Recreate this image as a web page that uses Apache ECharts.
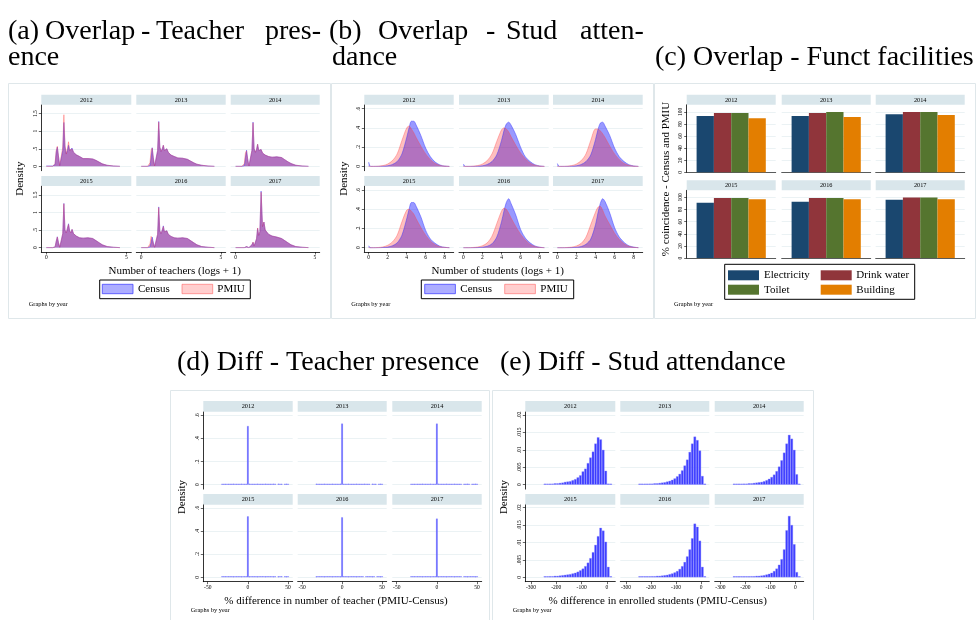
<!DOCTYPE html>
<html><head><meta charset="utf-8">
<script src="https://cdn.jsdelivr.net/npm/echarts@6/dist/echarts.min.js"></script>
<style>html,body{margin:0;padding:0;background:#fff}#c{width:977px;height:620px}</style>
</head><body><div id="c"></div>
<script>
// ---------------- DATA ----------------
const YEARS = ['2012','2013','2014','2015','2016','2017'];

// (a) kernel density of number of teachers (logs + 1)
const TEACH_X = [0.00,0.40,0.55,0.62,0.69,0.76,0.84,0.95,1.03,1.10,1.17,1.25,1.32,1.39,1.46,1.53,1.61,1.70,1.79,1.87,1.95,2.08,2.30,2.60,2.90,3.10,3.30,3.50,3.80,4.20,4.60];
const TEACH_CENSUS_2012 = [0.01,0.01,0.05,0.40,0.55,0.30,0.02,0.03,0.45,1.25,0.55,0.35,0.45,0.60,0.45,0.40,0.52,0.40,0.42,0.33,0.30,0.28,0.22,0.22,0.21,0.17,0.12,0.07,0.03,0.01,0];
const TEACH_PMIU_2012   = [0,0,0.08,0.45,0.57,0.30,0.02,0.05,0.55,1.47,0.60,0.35,0.50,0.70,0.45,0.40,0.50,0.40,0.42,0.33,0.30,0.28,0.22,0.22,0.21,0.17,0.12,0.07,0.03,0.01,0];
const TEACH_CENSUS_2013 = [0,0,0.02,0.25,0.53,0.25,0.01,0.03,0.45,1.28,0.55,0.42,0.50,0.60,0.45,0.42,0.50,0.40,0.42,0.32,0.30,0.28,0.24,0.23,0.20,0.15,0.10,0.06,0.03,0.01,0];
const TEACH_PMIU_2013   = [0,0,0.10,0.45,0.52,0.22,0.01,0.03,0.45,1.26,0.55,0.42,0.50,0.60,0.45,0.42,0.50,0.40,0.42,0.32,0.30,0.28,0.24,0.23,0.20,0.15,0.10,0.06,0.03,0.01,0];
const TEACH_CENSUS_2014 = [0,0,0.02,0.25,0.46,0.22,0.01,0.03,0.45,1.26,0.50,0.40,0.48,0.63,0.45,0.40,0.48,0.38,0.40,0.32,0.30,0.28,0.26,0.27,0.25,0.19,0.13,0.08,0.03,0.01,0];
const TEACH_PMIU_2014   = [0,0,0.08,0.38,0.44,0.20,0.01,0.03,0.45,1.24,0.50,0.40,0.48,0.63,0.45,0.40,0.48,0.38,0.40,0.32,0.30,0.28,0.26,0.27,0.25,0.19,0.13,0.08,0.03,0.01,0];
const TEACH_CENSUS_2015 = [0,0,0.02,0.18,0.31,0.15,0.01,0.03,0.40,1.26,0.50,0.42,0.55,0.68,0.48,0.42,0.52,0.40,0.40,0.33,0.30,0.28,0.27,0.28,0.26,0.20,0.14,0.08,0.03,0.01,0];
const TEACH_PMIU_2015   = [0,0,0.02,0.18,0.30,0.15,0.01,0.03,0.40,1.25,0.50,0.42,0.55,0.66,0.48,0.42,0.52,0.40,0.40,0.33,0.30,0.28,0.27,0.28,0.26,0.20,0.14,0.08,0.03,0.01,0];
const TEACH_CENSUS_2016 = [0,0,0.02,0.15,0.30,0.15,0.01,0.03,0.38,1.16,0.48,0.40,0.50,0.62,0.45,0.40,0.48,0.38,0.38,0.32,0.30,0.28,0.27,0.28,0.26,0.20,0.14,0.08,0.03,0.01,0];
const TEACH_PMIU_2016   = [0,0,0.10,0.32,0.28,0.12,0.01,0.03,0.38,1.14,0.48,0.40,0.50,0.60,0.45,0.40,0.48,0.38,0.38,0.32,0.30,0.28,0.27,0.28,0.26,0.20,0.14,0.08,0.03,0.01,0];
const TEACH_CENSUS_2017 = [0,0,0,0.02,0.03,0.02,0,0,0.08,0.15,0.05,0.10,0.25,0.55,0.35,0.45,1.61,0.60,0.73,0.50,0.45,0.38,0.33,0.30,0.26,0.20,0.14,0.08,0.03,0.01,0];
const TEACH_PMIU_2017   = [0,0,0,0.02,0.03,0.02,0,0,0.08,0.16,0.05,0.10,0.25,0.56,0.35,0.45,1.58,0.60,0.73,0.50,0.45,0.38,0.33,0.30,0.26,0.20,0.14,0.08,0.03,0.01,0];
const TEACH_CENSUS = [TEACH_CENSUS_2012,TEACH_CENSUS_2013,TEACH_CENSUS_2014,TEACH_CENSUS_2015,TEACH_CENSUS_2016,TEACH_CENSUS_2017];
const TEACH_PMIU = [TEACH_PMIU_2012,TEACH_PMIU_2013,TEACH_PMIU_2014,TEACH_PMIU_2015,TEACH_PMIU_2016,TEACH_PMIU_2017];

// (b) kernel density of number of students (logs + 1)
const STUD_X = [0,0.2,0.5,1,1.5,2,2.5,3,3.5,4,4.25,4.5,4.75,5,5.5,6,6.5,7,7.5,8,8.5];
const STUD_CENSUS_2012 = [0.045,0,0,0,0.002,0.006,0.02,0.05,0.13,0.30,0.40,0.47,0.47,0.43,0.32,0.19,0.10,0.045,0.015,0.004,0];
const STUD_PMIU_2012   = [0,0,0,0.002,0.008,0.025,0.06,0.13,0.27,0.40,0.42,0.39,0.35,0.30,0.21,0.13,0.07,0.03,0.01,0.003,0];
const STUD_CENSUS_2013 = [0.025,0,0,0,0.002,0.006,0.02,0.05,0.12,0.27,0.37,0.44,0.46,0.43,0.33,0.20,0.10,0.05,0.018,0.005,0];
const STUD_PMIU_2013   = [0,0,0,0.002,0.008,0.025,0.06,0.13,0.26,0.38,0.40,0.39,0.36,0.31,0.22,0.14,0.08,0.035,0.012,0.003,0];
const STUD_CENSUS_2014 = [0.03,0,0,0,0.002,0.006,0.02,0.05,0.12,0.28,0.38,0.45,0.46,0.42,0.32,0.19,0.10,0.05,0.018,0.005,0];
const STUD_PMIU_2014   = [0,0,0,0.002,0.008,0.025,0.06,0.13,0.27,0.39,0.39,0.37,0.34,0.30,0.21,0.13,0.07,0.03,0.011,0.003,0];
const STUD_CENSUS_2015 = [0.02,0,0,0,0.002,0.006,0.02,0.05,0.13,0.30,0.40,0.47,0.47,0.43,0.32,0.18,0.09,0.045,0.015,0.004,0];
const STUD_PMIU_2015   = [0,0,0,0.002,0.008,0.025,0.06,0.13,0.27,0.39,0.40,0.38,0.35,0.30,0.21,0.13,0.07,0.03,0.01,0.003,0];
const STUD_CENSUS_2016 = [0,0,0,0,0.001,0.005,0.015,0.04,0.11,0.27,0.38,0.47,0.51,0.46,0.34,0.19,0.10,0.05,0.018,0.005,0];
const STUD_PMIU_2016   = [0,0,0,0.002,0.007,0.02,0.05,0.12,0.25,0.38,0.41,0.40,0.36,0.31,0.22,0.14,0.08,0.035,0.012,0.003,0];
const STUD_CENSUS_2017 = [0,0,0,0,0.001,0.004,0.012,0.035,0.09,0.24,0.36,0.46,0.51,0.48,0.36,0.21,0.11,0.055,0.02,0.006,0];
const STUD_PMIU_2017   = [0,0,0,0.002,0.006,0.018,0.045,0.11,0.24,0.37,0.42,0.43,0.39,0.33,0.24,0.15,0.085,0.04,0.014,0.004,0];
const STUD_CENSUS = [STUD_CENSUS_2012,STUD_CENSUS_2013,STUD_CENSUS_2014,STUD_CENSUS_2015,STUD_CENSUS_2016,STUD_CENSUS_2017];
const STUD_PMIU = [STUD_PMIU_2012,STUD_PMIU_2013,STUD_PMIU_2014,STUD_PMIU_2015,STUD_PMIU_2016,STUD_PMIU_2017];

// (c) % coincidence Census and PMIU, by year
const FAC_NAMES = ['Electricity','Drink water','Toilet','Building'];
const FAC_ELECTRICITY = [93, 93, 96, 91, 93, 96];
const FAC_DRINK_WATER = [98, 98, 99.5, 99, 99, 100];
const FAC_TOILET      = [98, 99.5, 99.5, 99, 99, 100];
const FAC_BUILDING    = [89.5, 91.5, 94.5, 97, 97, 97];

// (d) histogram: % difference in number of teachers (bin centres, width 2)
const DT_X = [-32,-30,-28,-26,-24,-22,-20,-18,-16,-14,-12,-10,-8,-6,-4,-2,0,2,4,6,8,10,12,14,16,18,20,22,24,26,28,30,32,34,36,38,40,42,44,46,48,50];
const DT_2012 = [.002,.002,.003,.003,.003,.003,.003,.003,.004,.004,.004,.004,.005,.005,.006,.006,.508,.006,.006,.005,.005,.004,.004,.004,.003,.003,.003,.003,.003,.003,.002,.002,.002,.002,null,.002,.002,.002,null,.002,.002,.002];
const DT_2013 = [.002,.002,.003,.003,.003,.003,.003,.003,.004,.004,.004,.004,.005,.005,.006,.006,.528,.006,.006,.005,.005,.004,.004,.004,.003,.003,.003,.003,.003,.003,.002,.002,.002,.002,null,.002,.002,.002,null,.002,.002,.002];
const DT_2014 = [.002,.002,.003,.003,.003,.003,.003,.003,.004,.004,.004,.004,.005,.005,.006,.006,.528,.006,.006,.005,.005,.004,.004,.004,.003,.003,.003,.003,.003,.003,.002,.002,null,.002,.002,.002,.002,null,.002,.002,.002,.002];
const DT_2015 = [.002,.002,.003,.003,.003,.003,.003,.003,.004,.004,.004,.004,.005,.005,.006,.006,.527,.006,.006,.005,.005,.004,.004,.004,.003,.003,.003,.003,.003,.003,.002,.002,.002,.002,null,.002,.002,.002,null,.002,.002,.002];
const DT_2016 = [.002,.002,.003,.003,.003,.003,.003,.003,.004,.004,.004,.004,.005,.005,.006,.006,.519,.006,.006,.005,.005,.004,.004,.004,.003,.003,.003,.003,.003,.003,null,.002,.002,.002,.002,.002,.002,null,.002,.002,.002,.002];
const DT_2017 = [.002,.002,.003,.003,.003,.003,.003,.003,.004,.004,.004,.004,.005,.005,.006,.006,.507,.006,.006,.005,.005,.004,.004,.004,.003,.003,.003,.003,.003,.003,.002,.002,null,.002,.002,.002,.002,.002,.002,.002,.002,.002];
const DT = [DT_2012,DT_2013,DT_2014,DT_2015,DT_2016,DT_2017];

// (e) histogram: % difference in enrolled students (bin centres, width 10)
const DS_X = [-245,-235,-225,-215,-205,-195,-185,-175,-165,-155,-145,-135,-125,-115,-105,-95,-85,-75,-65,-55,-45,-35,-25,-15,-5,5,15];
const DS_2012 = [.0002,.0002,.0002,.0003,.0004,.0004,.0005,.0006,.0008,.0009,.0010,.0013,.0016,.0021,.0027,.0038,.0046,.0062,.0078,.0095,.0118,.0136,.0130,.0100,.0040,.0003,0];
const DS_2013 = [.0001,.0001,.0002,.0002,.0003,.0003,.0004,.0004,.0005,.0006,.0007,.0009,.0011,.0014,.0018,.0024,.0031,.0041,.0055,.0072,.0094,.0118,.0138,.0128,.0098,.0025,.0002];
const DS_2014 = [.0001,.0001,.0002,.0002,.0003,.0003,.0004,.0004,.0005,.0006,.0007,.0008,.0010,.0013,.0017,.0022,.0029,.0039,.0052,.0070,.0092,.0118,.0143,.0132,.0100,.0030,.0002];
const DS_2015 = [.0002,.0002,.0003,.0003,.0004,.0004,.0005,.0006,.0007,.0008,.0009,.0011,.0013,.0016,.0020,.0025,.0032,.0042,.0055,.0072,.0093,.0118,.0142,.0134,.0102,.0030,.0002];
const DS_2016 = [.0001,.0001,.0001,.0002,.0002,.0003,.0003,.0004,.0004,.0005,.0006,.0007,.0009,.0011,.0014,.0018,.0024,.0032,.0044,.0060,.0080,.0112,.0154,.0145,.0105,.0030,.0002];
const DS_2017 = [.0001,.0001,.0001,.0001,.0002,.0002,.0002,.0003,.0003,.0004,.0004,.0005,.0006,.0008,.0010,.0013,.0018,.0025,.0036,.0052,.0080,.0135,.0176,.0150,.0095,.0015,.0002];
const DS = [DS_2012,DS_2013,DS_2014,DS_2015,DS_2016,DS_2017];

// tick values
const TICKS_A_X = [0, 5];
const TICKS_A_Y = [0, 0.5, 1, 1.5];
const TICKS_B_X = [0, 2, 4, 6, 8];
const TICKS_B_Y = [0, 0.2, 0.4, 0.6];
const TICKS_C_Y = [0, 20, 40, 60, 80, 100];
const TICKS_D_X = [-50, 0, 50];
const TICKS_D_Y = [0, 0.2, 0.4, 0.6];
const TICKS_E_X = [-300, -200, -100, 0];
const TICKS_E_Y = [0, 0.005, 0.01, 0.015, 0.02];

// ---------------- LAYOUT / STYLE ----------------
const SERIF = 'Liberation Serif';
const L = {
  A:{ox:8, oy:82, cols:[[33.3,123.3],[128.3,217.7],[222.7,311.7]], rows:[[22.7,88.7],[104,170]], strips:[12.7,94], sh:10, xr:[-0.31,5.31], yr:[-0.125,1.756]},
  B:{ox:332, oy:82, cols:[[32.3,121.7],[127,216.7],[221,310.7]], rows:[[22.7,88.7],[104,170]], strips:[12.7,94], sh:10, xr:[-0.46,8.95], yr:[-0.045,0.642]},
  C:{ox:654, oy:82, cols:[[32.7,121.7],[127.7,216.7],[221.7,310.7]], rows:[[22.7,90.3],[108.3,176]], strips:[12.7,98.3], sh:10, yr:[0,111.7]},
  D:{ox:170, oy:390, cols:[[33.3,122.7],[127.7,216.7],[222.3,311.7]], rows:[[21.7,99.1],[114.3,191.7]], strips:[11,104], sh:10.7, xr:[-55.5,55.8], yr:[-0.038,0.631]},
  E:{ox:492, oy:390, cols:[[33.3,123.3],[128.3,217.3],[222.7,311.7]], rows:[[21.7,99.1],[114.3,191.7]], strips:[11,104], sh:10.7, xr:[-322.5,32.8], yr:[-0.00126,0.02095]}
};
const CENSUS_LINE='rgba(50,50,255,0.65)', CENSUS_FILL='rgba(0,0,255,0.40)';
const PMIU_LINE='rgba(255,70,70,0.55)', PMIU_FILL='rgba(255,0,0,0.25)';
const FAC_COLORS = ['#1a476f','#90353b','#55752f','#e37e00'];
const HIST_COLOR = '#3c3cff';
const STRIP='#d9e6eb', GRIDC='#e6eff1', FRAME='#dfe7ea';

function fmt(v){ return String(v).replace(/^(-?)0\./,'$1.'); }

const grids=[], xAxes=[], yAxes=[], series=[], graphics=[];

function txt(x,y,text,size,opt){
  opt=opt||{};
  graphics.push({type:'text', x:x, y:y, rotation:opt.rot||0, z:10, silent:true,
    style:{text:text, fontSize:size, fontFamily:SERIF, fill:opt.fill||'#000',
      align:opt.align||'left', verticalAlign:opt.va||'middle'}});
}
function rect(x,y,w,h,fill,stroke,lw){
  graphics.push({type:'rect', z:5, silent:true, shape:{x:x,y:y,width:w,height:h},
    style:{fill:fill||'none', stroke:stroke||'none', lineWidth:lw||0}});
}

function yAxisCfg(gi,left,P,ticks){
  return {gridIndex:gi, type:'value', min:P.yr[0], max:P.yr[1],
    axisLine:{show:left, onZero:false, lineStyle:{color:'#000', width:0.8}},
    axisTick:{show:left, length:2.5, customValues:ticks, lineStyle:{color:'#000', width:0.6}},
    axisLabel:{show:left, customValues:ticks, rotate:90, fontSize:5.5, fontFamily:SERIF, color:'#000', margin:3, formatter:fmt},
    splitLine:{show:true, lineStyle:{color:GRIDC, width:0.8}}};
}
function xAxisVal(gi,bottom,P,ticks){
  return {gridIndex:gi, type:'value', min:P.xr[0], max:P.xr[1],
    axisLine:{show:bottom, onZero:false, lineStyle:{color:'#000', width:0.8}},
    axisTick:{show:bottom, length:2.5, customValues:ticks, lineStyle:{color:'#000', width:0.6}},
    axisLabel:{show:bottom, customValues:ticks, fontSize:5.5, fontFamily:SERIF, color:'#000', margin:3, formatter:fmt},
    splitLine:{show:false}};
}

function facet(P, k, xt, yt, isCat){
  const r = Math.floor(k/3), c = k%3;
  const gi = grids.length;
  const x0=P.ox+P.cols[c][0], x1=P.ox+P.cols[c][1];
  const y0=P.oy+P.rows[r][0], y1=P.oy+P.rows[r][1];
  grids.push({left:x0, top:y0, width:x1-x0, height:y1-y0, containLabel:false});
  if(isCat){
    xAxes.push({gridIndex:gi, type:'category', data:['all'], axisLine:{show:true, onZero:false, lineStyle:{color:'#333', width:0.8}},
      axisTick:{show:false}, axisLabel:{show:false}, splitLine:{show:false}});
  } else {
    xAxes.push(xAxisVal(gi, r===1, P, xt));
  }
  yAxes.push(yAxisCfg(gi, c===0, P, yt));
  const sy = P.oy+P.strips[r];
  rect(x0, sy, x1-x0, P.sh, STRIP);
  txt((x0+x1)/2, sy+P.sh/2+0.3, YEARS[k], 6.3, {align:'center'});
  return gi;
}

function zip(xs, ys){ return xs.map((x,i)=>[x, ys[i]==null ? '-' : ys[i]]); }

function areaSeries(gi, xs, ys, line, fill, smooth){
  series.push({type:'line', xAxisIndex:gi, yAxisIndex:gi, data:zip(xs,ys), showSymbol:false, symbol:'none',
    smooth:smooth, lineStyle:{color:line, width:0.7}, areaStyle:{color:fill, opacity:1}, silent:true, animation:false});
}
function histSeries(gi, xs, ys, w){
  series.push({type:'bar', xAxisIndex:gi, yAxisIndex:gi, data:zip(xs,ys), barWidth:w, barMinHeight:1,
    itemStyle:{color:HIST_COLOR, borderColor:'rgba(140,140,255,0.9)', borderWidth:0.4}, silent:true, animation:false});
}

// panel frames
rect(8.5,83.5,322,235,'none',FRAME,1);
rect(331.5,83.5,322,235,'none',FRAME,1);
rect(654.5,83.5,321,235,'none',FRAME,1);
rect(170.5,390.5,319,240,'none',FRAME,1);
rect(492.5,390.5,321,240,'none',FRAME,1);

// (a)
for(let k=0;k<6;k++){
  const gi = facet(L.A,k,TICKS_A_X,TICKS_A_Y);
  areaSeries(gi, TEACH_X, TEACH_CENSUS[k], CENSUS_LINE, CENSUS_FILL, false);
  areaSeries(gi, TEACH_X, TEACH_PMIU[k], PMIU_LINE, PMIU_FILL, false);
}
// (b)
for(let k=0;k<6;k++){
  const gi = facet(L.B,k,TICKS_B_X,TICKS_B_Y);
  areaSeries(gi, STUD_X, STUD_CENSUS[k], CENSUS_LINE, CENSUS_FILL, 0.3);
  areaSeries(gi, STUD_X, STUD_PMIU[k], PMIU_LINE, PMIU_FILL, 0.3);
}
// (c)
const FAC_VALUES = [FAC_ELECTRICITY, FAC_DRINK_WATER, FAC_TOILET, FAC_BUILDING];
for(let k=0;k<6;k++){
  const gi = facet(L.C,k,null,TICKS_C_Y,true);
  FAC_VALUES.forEach((arr,j)=>{
    series.push({type:'bar', name:FAC_NAMES[j], xAxisIndex:gi, yAxisIndex:gi, data:[arr[k]], barWidth:17.3, barGap:'0%',
      itemStyle:{color:FAC_COLORS[j]}, silent:true, animation:false});
  });
}
// (d)
for(let k=0;k<6;k++){
  const gi = facet(L.D,k,TICKS_D_X,TICKS_D_Y);
  histSeries(gi, DT_X, DT[k], 1.6);
}
// (e)
for(let k=0;k<6;k++){
  const gi = facet(L.E,k,TICKS_E_X,TICKS_E_Y);
  histSeries(gi, DS_X, DS[k], 2.53);
}

// titles (word positions emulate justified LaTeX captions)
const TS = 28;
const T1 = 31.5, T2 = 57.3, T3 = 362.5;
[['(a)',8],['Overlap',45],['-',141],['Teacher',156],['pres-',265]].forEach(w=>txt(w[1],T1,w[0],TS));
txt(8,T2,'ence',TS);
[['(b)',329],['Overlap',378],['-',486],['Stud',506],['atten-',580]].forEach(w=>txt(w[1],T1,w[0],TS));
txt(332,T2,'dance',TS);
txt(655,T2,'(c) Overlap - Funct facilities',TS);
txt(177,T3,'(d) Diff - Teacher presence',TS);
txt(500,T3,'(e) Diff - Stud attendance',TS);

// axis titles
txt(20.3,178.7,'Density',11,{align:'center',rot:Math.PI/2});
txt(343.7,178.7,'Density',11,{align:'center',rot:Math.PI/2});
txt(666,179,'% coincidence - Census and PMIU',11,{align:'center',rot:Math.PI/2});
txt(182.3,497,'Density',11,{align:'center',rot:Math.PI/2});
txt(504.3,497,'Density',11,{align:'center',rot:Math.PI/2});
txt(174.7,271,'Number of teachers (logs + 1)',11,{align:'center'});
txt(497.7,271,'Number of students (logs + 1)',11,{align:'center'});
txt(336,601,'% difference in number of teacher (PMIU-Census)',11,{align:'center'});
txt(657.7,601,'% difference in enrolled students (PMIU-Census)',11,{align:'center'});

// notes
[[28.7,304.7],[351.3,304.7],[674,304.7],[190.7,610.7],[512.7,610.7]].forEach(p=>txt(p[0],p[1],'Graphs by year',6.4));

// legends
function densLegend(bx, sw1, lb1, sw2, lb2){
  rect(bx[0],280,bx[1]-bx[0],18.7,'#fff','#000',1);
  rect(sw1,284.3,30.7,9.4,'rgba(60,60,255,0.42)','rgba(60,60,255,0.75)',1);
  txt(lb1,289.5,'Census',11);
  rect(sw2,284.3,30.7,9.4,'rgba(255,60,60,0.25)','rgba(255,90,90,0.55)',1);
  txt(lb2,289.5,'PMIU',11);
}
densLegend([99.7,250.3],102.3,138,182,217.3);
densLegend([421.3,573.7],424.7,460.3,504.7,540.3);
rect(724.7,264.3,190,35,'#fff','#000',1);
[[728,270.3,764,275.5],[820.7,270.3,856.3,275.5],[728,284.7,764,290],[820.7,284.7,856.3,290]].forEach((p,j)=>{
  rect(p[0],p[1],31,10,FAC_COLORS[j]);
  txt(p[2],p[3],FAC_NAMES[j],11);
});

const chart = echarts.init(document.getElementById('c'), null, {renderer:'canvas'});
chart.setOption({
  animation:false,
  backgroundColor:'#fff',
  grid:grids, xAxis:xAxes, yAxis:yAxes, series:series,
  graphic:{elements:graphics}
});
</script></body></html>
